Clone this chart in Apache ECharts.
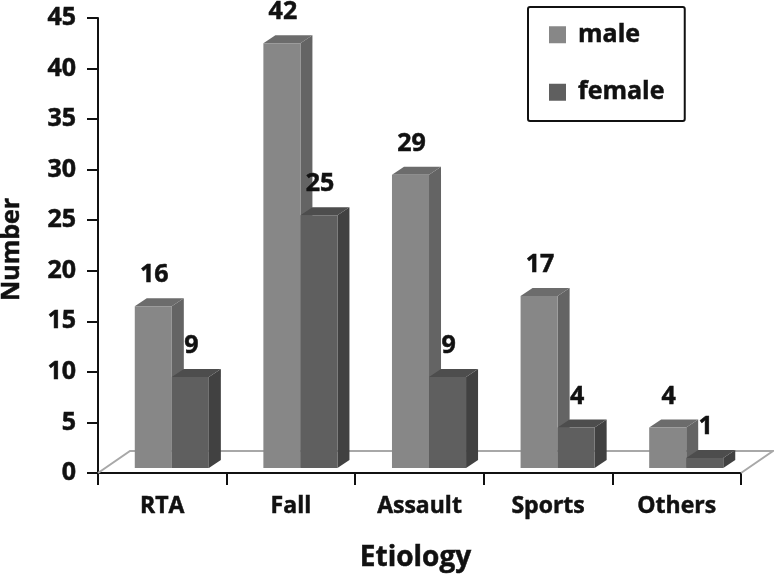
<!DOCTYPE html>
<html>
<head>
<meta charset="utf-8">
<style>html,body{margin:0;padding:0;background:#fff}#c{width:774px;height:574px}</style>
<script src="https://cdn.jsdelivr.net/npm/echarts@6/dist/echarts.min.js"></script>
</head>
<body>
<div id="c"></div>
<script>
var categories = ['RTA', 'Fall', 'Assault', 'Sports', 'Others'];
var male = [16, 42, 29, 17, 4];
var female = [9, 25, 9, 4, 1];
var yTicks = {min: 0, max: 45, interval: 5};

var FONT = '"Open Sans"';
var INK = '#111';
var DX = 12, DY = -8, LIFT = -5;
var heavy = {textBorderColor: INK, textBorderWidth: 0.5};

function bar3d(faces, sideSign) {
  return function (params, api) {
    var idx = api.value(0), v = api.value(1);
    var band = api.size([1, 0])[0];
    var w = band * 0.288;
    var center = api.coord([idx, 0])[0] + band * 0.074;
    var x0 = sideSign < 0 ? center - w : center;
    var x1 = x0 + w;
    var yb = api.coord([idx, 0])[1] + LIFT;
    var yt = api.coord([idx, v])[1] + LIFT;
    return {
      type: 'group',
      children: [
        {type: 'polygon', shape: {points: [[x1, yb], [x1 + DX, yb + DY], [x1 + DX, yt + DY], [x1, yt]]}, style: {fill: faces.side}},
        {type: 'polygon', shape: {points: [[x0, yt], [x0 + DX, yt + DY], [x1 + DX, yt + DY], [x1, yt]]}, style: {fill: faces.top}},
        {type: 'rect', shape: {x: x0, y: yt, width: w, height: yb - yt}, style: {fill: faces.front}},
        {type: 'text', z2: 10, style: {x: (x0 + x1) / 2 + 1, y: yt - 31, text: String(v), align: 'center', verticalAlign: 'middle', fill: INK, stroke: INK, lineWidth: 0.5, font: 'bold 25px ' + FONT}}
      ]
    };
  };
}

function floor(params) {
  var c = params.coordSys, b = c.y + c.height, r = c.x + c.width;
  return {
    type: 'polyline',
    shape: {points: [[c.x, b], [c.x + 32, b - 22], [r + 32, b - 22], [r, b]]},
    style: {fill: null, stroke: '#a8a8a8', lineWidth: 2}
  };
}

var chart = echarts.init(document.getElementById('c'));
chart.setOption({
  animation: false,
  backgroundColor: '#fff',
  grid: {left: 98, right: 33, top: 18, bottom: 101, outerBoundsMode: 'none'},
  legend: {
    data: ['male', 'female'], orient: 'vertical', left: 528, top: 7,
    icon: 'rect', itemWidth: 17, itemHeight: 17, itemGap: 32,
    padding: [15, 20, 16, 21], borderColor: INK, borderWidth: 2, borderRadius: 2,
    selectedMode: false,
    textStyle: Object.assign({fontFamily: FONT, fontWeight: 'bold', fontSize: 25, lineHeight: 17, color: INK, padding: [0, 0, 0, 7]}, heavy)
  },
  xAxis: {
    type: 'category', data: categories,
    name: 'Etiology', nameLocation: 'middle', nameGap: 71,
    nameTextStyle: Object.assign({fontFamily: FONT, fontWeight: 'bold', fontSize: 28, color: INK, padding: [0, 8, 0, 0]}, heavy),
    axisLine: {lineStyle: {color: INK, width: 2}},
    axisTick: {show: true, length: 12, lineStyle: {color: INK, width: 2}},
    axisLabel: Object.assign({fontFamily: FONT, fontWeight: 'bold', fontSize: 23, color: INK, margin: 22}, heavy),
    splitLine: {show: false}
  },
  yAxis: {
    type: 'value', min: yTicks.min, max: yTicks.max, interval: yTicks.interval,
    name: 'Number', nameLocation: 'middle', nameGap: 74,
    nameTextStyle: Object.assign({fontFamily: FONT, fontWeight: 'bold', fontSize: 25, color: INK, padding: [0, 8, 0, 0]}, heavy),
    axisLine: {show: true, lineStyle: {color: INK, width: 2}},
    axisTick: {show: true, length: 11, lineStyle: {color: INK, width: 2}},
    axisLabel: Object.assign({fontFamily: FONT, fontWeight: 'bold', fontSize: 25, color: INK, margin: 22}, heavy),
    splitLine: {show: false}
  },
  series: [
    {type: 'custom', name: 'floor', data: [[0, 0]], renderItem: floor, clip: false, silent: true, encode: {x: 0, y: 1}, z: 1},
    {type: 'custom', name: 'male', itemStyle: {color: '#878787'}, clip: false, encode: {x: 0, y: 1}, z: 2,
      data: male.map(function (v, i) { return [i, v]; }),
      renderItem: bar3d({front: '#878787', side: '#646464', top: '#6c6c6c'}, -1)},
    {type: 'custom', name: 'female', itemStyle: {color: '#5f5f5f'}, clip: false, encode: {x: 0, y: 1}, z: 3,
      data: female.map(function (v, i) { return [i, v]; }),
      renderItem: bar3d({front: '#5f5f5f', side: '#414141', top: '#4d4d4d'}, 1)}
  ]
});
</script>
</body>
</html>
